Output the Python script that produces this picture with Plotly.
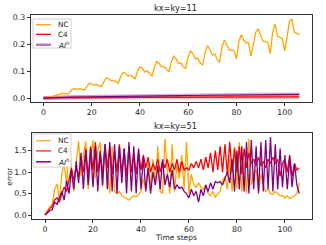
import plotly.graph_objects as go

steps = list(range(107))

nc_11 = [0.0, 0.0, 0.001, 0.003, 0.006, 0.01, 0.014, 0.015, 0.017, 0.016,
         0.015, 0.022, 0.033, 0.035, 0.032, 0.035, 0.033, 0.03, 0.042, 0.055,
         0.052, 0.047, 0.05, 0.046, 0.042, 0.06, 0.074, 0.072, 0.064, 0.066,
         0.061, 0.055, 0.08, 0.095, 0.092, 0.082, 0.085, 0.078, 0.072, 0.1,
         0.116, 0.11, 0.097, 0.1, 0.09, 0.082, 0.115, 0.135, 0.128, 0.115,
         0.117, 0.105, 0.097, 0.135, 0.155, 0.145, 0.128, 0.13, 0.115, 0.11,
         0.155, 0.175, 0.163, 0.145, 0.148, 0.13, 0.122, 0.17, 0.195, 0.18,
         0.16, 0.163, 0.142, 0.133, 0.19, 0.215, 0.195, 0.178, 0.178, 0.175,
         0.145, 0.21, 0.235, 0.215, 0.205, 0.205, 0.155, 0.2, 0.245, 0.255,
         0.23, 0.21, 0.21, 0.205, 0.165, 0.245, 0.275, 0.23, 0.225, 0.22,
         0.175, 0.24, 0.285, 0.293, 0.245, 0.24, 0.235]

c4_11 = [0.0, 0.0005, 0.001, 0.001, 0.0012, 0.0013, 0.0014, 0.0015, 0.0015, 0.0016,
         0.0016, 0.0017, 0.0017, 0.0018, 0.0018, 0.0019, 0.0019, 0.002, 0.002, 0.002,
         0.0021, 0.0021, 0.0021, 0.0022, 0.0022, 0.0022, 0.0023, 0.0023, 0.0023, 0.0024,
         0.0024, 0.0024, 0.0025, 0.0025, 0.0025, 0.0026, 0.0026, 0.0026, 0.0027, 0.0027,
         0.0027, 0.0028, 0.0028, 0.0028, 0.0029, 0.0029, 0.0029, 0.003, 0.003, 0.003,
         0.003, 0.0031, 0.0031, 0.0031, 0.0031, 0.0032, 0.0032, 0.0032, 0.0032, 0.0033,
         0.0033, 0.0033, 0.0033, 0.0034, 0.0034, 0.0034, 0.0034, 0.0035, 0.0035, 0.0035,
         0.0035, 0.0036, 0.0036, 0.0036, 0.0036, 0.0037, 0.0037, 0.0037, 0.0037, 0.0038,
         0.0038, 0.0038, 0.0038, 0.0039, 0.0039, 0.0039, 0.0039, 0.004, 0.004, 0.004,
         0.004, 0.004, 0.0041, 0.0041, 0.0041, 0.0041, 0.0042, 0.0042, 0.0042, 0.0042,
         0.0042, 0.0043, 0.0043, 0.0043, 0.0043, 0.0043, 0.0043]

ai_11 = [0.0, 0.0005, 0.001, 0.0015, 0.002, 0.0022, 0.0025, 0.0027, 0.003, 0.0032,
         0.0033, 0.0035, 0.0037, 0.0038, 0.004, 0.0042, 0.0043, 0.0045, 0.0046, 0.0048,
         0.0049, 0.005, 0.0052, 0.0053, 0.0054, 0.0055, 0.0057, 0.0058, 0.0059, 0.006,
         0.0062, 0.0063, 0.0064, 0.0065, 0.0066, 0.0068, 0.0069, 0.007, 0.0071, 0.0072,
         0.0074, 0.0075, 0.0076, 0.0077, 0.0078, 0.0079, 0.008, 0.0082, 0.0083, 0.0084,
         0.0085, 0.0086, 0.0087, 0.0088, 0.009, 0.0091, 0.0092, 0.0093, 0.0094, 0.0095,
         0.0096, 0.0097, 0.0098, 0.01, 0.0101, 0.0102, 0.0103, 0.0104, 0.0105, 0.0106,
         0.0107, 0.0108, 0.0109, 0.011, 0.0111, 0.0112, 0.0113, 0.0114, 0.0115, 0.0116,
         0.0117, 0.0118, 0.0119, 0.012, 0.0121, 0.0122, 0.0122, 0.0123, 0.0124, 0.0125,
         0.0126, 0.0127, 0.0127, 0.0128, 0.0129, 0.013, 0.013, 0.0131, 0.0132, 0.0133,
         0.0134, 0.0135, 0.0136, 0.0137, 0.0137, 0.0136, 0.0135]

nc_51 = [0.0, 0.1, 0.2, 0.25, 0.6, 0.72, 0.35, 0.95, 1.2, 0.7,
         1.7, 1.1, 0.55, 1.25, 1.72, 0.9, 1.4, 1.72, 0.6, 1.3,
         1.75, 0.85, 1.5, 1.7, 0.65, 1.65, 1.0, 0.5, 1.6, 0.55,
         0.5, 0.55, 0.45, 0.42, 0.38, 0.35, 0.4, 0.45, 0.42, 0.5,
         0.55, 0.85, 0.6, 1.25, 0.65, 1.3, 0.7, 1.6, 0.55, 0.5,
         1.78, 1.0, 0.5, 1.65, 0.55, 1.2, 0.85, 1.4, 0.6, 1.7,
         0.5, 0.95, 0.7, 0.65, 0.75, 0.65, 0.6, 0.7, 0.5, 0.45,
         0.55, 0.42, 0.5, 0.55, 0.8, 0.9, 0.6, 1.3, 0.55, 1.6,
         0.6, 1.7, 0.55, 1.3, 0.5, 1.78, 0.7, 1.0, 1.05, 0.55,
         0.95, 0.7, 0.55, 0.6, 0.5, 0.48, 0.55, 0.5, 0.45, 0.45,
         0.4, 0.45, 0.38, 0.42, 0.45, 0.5, 0.75]

c4_51 = [0.0, 0.08, 0.15, 0.2, 0.35, 0.4, 0.3, 0.5, 0.65, 0.55,
         0.85, 1.1, 0.8, 1.1, 0.9, 1.3, 1.0, 1.55, 0.85, 1.6,
         1.05, 1.7, 1.0, 1.45, 0.95, 1.65, 1.1, 1.6, 0.95, 1.5,
         1.0, 1.65, 0.95, 1.55, 0.9, 1.6, 1.0, 1.45, 0.95, 1.5,
         1.05, 1.4, 1.1, 1.35, 1.0, 1.2, 1.05, 1.3, 1.0, 1.25,
         1.1, 1.3, 1.0, 1.2, 1.05, 1.3, 1.0, 1.25, 1.05, 1.1,
         1.05, 1.2, 1.1, 1.25, 1.1, 1.3, 1.05, 1.35, 1.1, 1.45,
         1.0, 1.5, 1.05, 1.6, 1.0, 1.65, 0.95, 1.7, 1.0, 1.55,
         1.0, 1.6, 0.95, 1.55, 1.1, 1.45, 1.2, 1.3, 1.15, 1.35,
         1.15, 1.25, 1.1, 1.3, 1.2, 1.35, 1.2, 1.3, 0.9, 1.2,
         1.3, 1.0, 1.4, 0.9, 1.2, 1.05, 1.1]

ai_51 = [0.0, 0.05, 0.1, 0.12, 0.3, 0.25, 0.4, 0.55, 0.35, 0.8,
         0.5, 1.05, 0.6, 1.25, 0.75, 1.45, 0.6, 1.5, 0.7, 1.55,
         0.65, 1.6, 0.55, 1.5, 0.7, 1.65, 0.6, 1.7, 0.55, 1.65,
         0.5, 1.6, 0.75, 1.55, 0.5, 1.7, 0.55, 1.6, 0.5, 1.55,
         0.6, 1.35, 0.55, 1.1, 0.5, 1.0, 0.7, 1.15, 0.6, 1.3,
         0.7, 0.95, 0.65, 1.05, 0.6, 0.7, 0.62, 0.65, 0.55, 0.5,
         0.4, 0.6, 0.45, 0.55, 0.3, 0.6, 0.45, 0.7, 0.55, 0.75,
         0.6, 0.78, 0.75, 0.78, 0.7, 0.85, 1.0, 0.75, 1.3, 0.55,
         1.5, 0.6, 1.6, 0.55, 1.7, 0.5, 1.75, 0.6, 1.6, 0.5,
         1.7, 0.55, 1.75, 0.6, 1.82, 0.55, 1.65, 0.6, 1.55, 0.65,
         1.4, 0.6, 1.35, 0.65, 1.2, 0.7, 0.5]

series_names = ["NC", "C4", "<i>AI</i><sup>h</sup>"]
x_ticks = [0, 20, 40, 60, 80, 100]
y_ticks_top = [0.0, 0.1, 0.2, 0.3]
y_ticks_bot = [0.0, 0.5, 1.0, 1.5]

W, H = 326, 245
ORANGE = "#FFA500"
RED = "#FF0000"
PURPLE = "#800080"
FONT = "DejaVu Sans"


def px(x):
    return x / W


def py(y):
    return 1 - y / H


fig = go.Figure()

# top panel
fig.add_trace(go.Scatter(x=steps, y=ai_11, mode="lines", line=dict(color="rgba(128,0,128,0.3)", width=4),
                         showlegend=False, hoverinfo="skip", xaxis="x", yaxis="y"))
fig.add_trace(go.Scatter(x=steps, y=c4_11, mode="lines", line=dict(color="rgba(255,0,0,0.25)", width=4),
                         showlegend=False, hoverinfo="skip", xaxis="x", yaxis="y"))
fig.add_trace(go.Scatter(x=steps, y=nc_11, mode="lines", name="NC", line=dict(color=ORANGE, width=1.3),
                         xaxis="x", yaxis="y", showlegend=False))
fig.add_trace(go.Scatter(x=steps, y=c4_11, mode="lines", name="C4", line=dict(color=RED, width=1.1),
                         xaxis="x", yaxis="y", showlegend=False))
fig.add_trace(go.Scatter(x=steps, y=ai_11, mode="lines", name="AIh",
                         line=dict(color=PURPLE, width=1.2), xaxis="x", yaxis="y", showlegend=False))

# bottom panel
fig.add_trace(go.Scatter(x=steps, y=nc_51, mode="lines", name="NC", line=dict(color=ORANGE, width=1.3),
                         xaxis="x2", yaxis="y2", showlegend=False))
fig.add_trace(go.Scatter(x=steps, y=c4_51, mode="lines", name="C4", line=dict(color=RED, width=1.3),
                         xaxis="x2", yaxis="y2", showlegend=False))
fig.add_trace(go.Scatter(x=steps, y=ai_51, mode="lines", name="AIh",
                         line=dict(color=PURPLE, width=1.3), xaxis="x2", yaxis="y2", showlegend=False))

axis_common = dict(showgrid=False, zeroline=False, showline=True, linecolor="#333333", linewidth=1,
                   mirror=True, ticks="outside", ticklen=3, tickcolor="#333333", automargin=False,
                   tickfont=dict(family=FONT, size=7.8, color="#222222"))

shapes = []
annotations = []


def add_legend(box, rows, colors, widths):
    x0, y0, x1, y1 = box
    shapes.append(dict(type="rect", xref="paper", yref="paper", x0=px(x0), x1=px(x1), y0=py(y1), y1=py(y0),
                       line=dict(color="#d0d0d0", width=1), fillcolor="rgba(255,255,255,0.85)", layer="above"))
    for yy, name, col, w in zip(rows, series_names, colors, widths):
        shapes.append(dict(type="line", xref="paper", yref="paper", x0=px(36), x1=px(51), y0=py(yy), y1=py(yy),
                           line=dict(color=col, width=w), layer="above"))
        annotations.append(dict(text=name, x=px(56), y=py(yy), xref="paper", yref="paper", showarrow=False,
                                xanchor="left", yanchor="middle", font=dict(family=FONT, size=7.3, color="#222222")))


add_legend((33, 19, 71, 48), [24.7, 34.3, 44.8], [ORANGE, RED, "rgba(128,0,128,0.55)"], [1.3, 1.3, 2.5])
add_legend((33, 134, 71, 167), [140.7, 150.9, 161.8],
           ["rgba(255,165,0,0.8)", "rgba(255,0,0,0.75)", PURPLE], [1.5, 1.5, 1.5])

annotations += [
    dict(text="kx=ky=11", x=px(175.5), y=py(7.5), xref="paper", yref="paper", showarrow=False,
         font=dict(family=FONT, size=8.2, color="#222222"), xanchor="center", yanchor="middle"),
    dict(text="kx=ky=51", x=px(175.5), y=py(125.7), xref="paper", yref="paper", showarrow=False,
         font=dict(family=FONT, size=8.2, color="#222222"), xanchor="center", yanchor="middle"),
    dict(text="Time steps", x=px(175.8), y=py(237.5), xref="paper", yref="paper", showarrow=False,
         font=dict(family=FONT, size=7.5, color="#222222"), xanchor="center", yanchor="middle"),
    dict(text="error", x=px(8.7), y=py(176), xref="paper", yref="paper", showarrow=False, textangle=-90,
         font=dict(family=FONT, size=7.5, color="#222222"), xanchor="center", yanchor="middle"),
]

fig.update_layout(
    width=W, height=H,
    margin=dict(l=0, r=0, t=0, b=0),
    paper_bgcolor="white", plot_bgcolor="white",
    font=dict(family=FONT, color="#222222"),
    showlegend=False,
    xaxis=dict(domain=[px(30.7), px(312)], anchor="y", range=[-5.3, 111.3], tickvals=x_ticks, **axis_common),
    yaxis=dict(domain=[py(102), py(15)], anchor="x", range=[-0.0147, 0.308], tickvals=y_ticks_top,
               tickformat=".1f", **axis_common),
    xaxis2=dict(domain=[px(32.3), px(312)], anchor="y2", range=[-5.3, 111.3], tickvals=x_ticks, **axis_common),
    yaxis2=dict(domain=[py(219), py(133.3)], anchor="x2", range=[-0.093, 1.905], tickvals=y_ticks_bot,
                tickformat=".1f", **axis_common),
    shapes=shapes,
    annotations=annotations,
)

fig.write_html("out.html", config={"displayModeBar": False},
               post_script="document.body.style.margin='0';document.body.style.padding='0';"
                           "document.body.style.overflow='hidden';")
